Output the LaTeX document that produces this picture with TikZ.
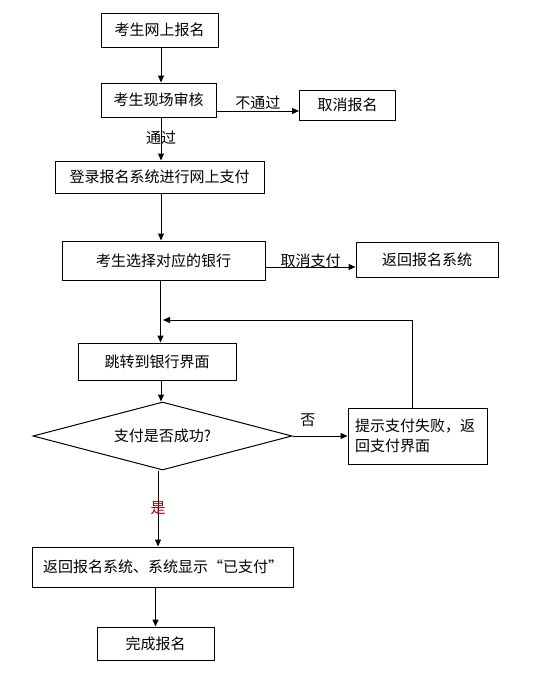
\documentclass[tikz,border=0pt]{standalone}
\usepackage{fontspec}
\newfontfamily\cjk{Noto Sans CJK SC}
\usetikzlibrary{arrows.meta}
\usetikzlibrary{shapes.geometric}

\begin{document}
\begin{tikzpicture}[x=1pt,y=-1pt,
  box/.style={draw,line width=1pt,inner sep=0pt,font=\cjk\fontsize{15}{20}\selectfont},
  arr/.style={line width=1pt,-{Triangle[length=7pt,width=6pt]}},
  lbl/.style={font=\cjk\fontsize{15}{20}\selectfont,inner sep=1pt}]
\fill[white] (0,0) rectangle (552,680);
\useasboundingbox (0,0) rectangle (552,680);

\node[box,minimum width=117pt,minimum height=34pt] (online) at (159.5,30) {考生网上报名};
\node[box,minimum width=115pt,minimum height=34pt] (review) at (158.5,100) {考生现场审核};
\node[box,minimum width=96pt,minimum height=30pt] (cancel) at (347.5,105) {取消报名};
\node[box,minimum width=209pt,minimum height=32pt] (login) at (159.5,177) {登录报名系统进行网上支付};
\node[box,minimum width=203pt,minimum height=39pt] (bank) at (163.5,260.5) {考生选择对应的银行};
\node[box,minimum width=142pt,minimum height=35pt] (back) at (427,259.5) {返回报名系统};
\node[box,minimum width=158pt,minimum height=37pt] (jump) at (157,361.5) {跳转到银行界面};
\node[box,shape=diamond,aspect=3.8,minimum width=259pt,minimum height=68pt] (ok) at (162.5,436) {支付是否成功?};
\node[box,minimum width=139pt,minimum height=56pt,text width=125pt,align=left] (fail) at (417.5,436) {提示支付失败，返\\回支付界面};
\node[box,minimum width=261pt,minimum height=40pt] (shown) at (163,567) {返回报名系统、系统显示“已支付”};
\node[box,minimum width=117pt,minimum height=33pt] (done) at (155.5,643.5) {完成报名};
\coordinate (loopin) at (163,320);

\draw[arr] ([xshift=1.5pt]online.south) -- ([xshift=1.5pt]online.south |- review.north);
\draw[arr] ([yshift=-11pt]review.east) -- ([yshift=-11pt]review.east -| cancel.west) node[lbl,midway,above] {不通过};
\draw[arr] ([xshift=2.5pt]review.south) -- ([xshift=2.5pt]review.south |- login.north) node[lbl,midway,yshift=1pt] {通过};
\draw[arr] ([xshift=1.5pt]login.south) -- ([xshift=1.5pt]login.south |- bank.north);
\draw[arr] ([yshift=-6.5pt]bank.east) -- ([yshift=-6.5pt]bank.east -| back.west) node[lbl,midway,yshift=6pt] {取消支付};
\draw[arr] ([xshift=-3pt]bank.south) -- ([xshift=-3pt]bank.south |- jump.north);
\draw[arr] ([xshift=-5.5pt]fail.north) |- (loopin);
\draw[arr] ([xshift=4pt]jump.south) -- ([xshift=4pt]jump.south |- ok.north);
\draw[arr] (ok.east) -- (fail.west) node[lbl,pos=0.28,above=8pt] {否};
\draw[arr] ([xshift=-4.5pt]ok.south) -- ([xshift=-4.5pt]ok.south |- shown.north) node[lbl,midway,text=red!70!black] {是};
\draw[arr] (done.north |- shown.south) -- (done.north);

\end{tikzpicture}
\end{document}
